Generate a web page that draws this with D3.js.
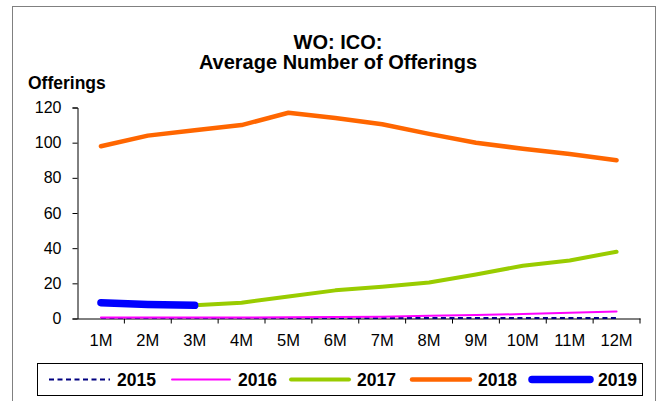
<!DOCTYPE html>
<html>
<head>
<meta charset="utf-8">
<script src="https://cdn.jsdelivr.net/npm/d3@7"></script>
<style>
  body { margin: 0; background: #fff; }
  svg { display: block; font-family: "Liberation Sans", Arial, sans-serif; }
</style>
</head>
<body>
<svg id="chart" width="664" height="401"></svg>
<script>
// months along the x axis
var months = ['1M', '2M', '3M', '4M', '5M', '6M', '7M', '8M', '9M', '10M', '11M', '12M'];
var yTicks = [0, 20, 40, 60, 80, 100, 120];

// average number of offerings per year (null = no data)
var y2015 = [0.3, 0.3, 0.3, 0.3, 0.3, 0.3, 0.3, 0.3, 0.3, 0.3, 0.3, 0.3];
var y2016 = [0.5, 0.5, 0.5, 0.6, 0.7, 0.8, 1, 1.5, 2, 2.5, 3.2, 4];
var y2017 = [null, null, 7.5, 9, 12.5, 16, 18, 20.5, 25, 30, 33, 38];
var y2018 = [98, 104, 107, 110, 117, 114, 110.5, 105, 100, 96.5, 93.5, 90];
var y2019 = [9, 8, 7.5, null, null, null, null, null, null, null, null, null];

var series = [
  { name: '2015', values: y2015, color: '#000080', width: 2, dash: '5,3.5' },
  { name: '2016', values: y2016, color: '#FF00FF', width: 2 },
  { name: '2017', values: y2017, color: '#99CC00', width: 4 },
  { name: '2018', values: y2018, color: '#FF6600', width: 4.5 },
  { name: '2019', values: y2019, color: '#0000FF', width: 7.5 }
];

var svg = d3.select('#chart');

// outer frame
svg.append('rect').attr('x', 12.5).attr('y', 6.5).attr('width', 643).attr('height', 400)
  .attr('fill', '#fff').attr('stroke', '#808080').attr('stroke-width', 1);

// titles
svg.append('text').attr('x', 338).attr('y', 49).attr('text-anchor', 'middle')
  .attr('font-size', 20).attr('font-weight', 'bold').text('WO: ICO:');
svg.append('text').attr('x', 338).attr('y', 69).attr('text-anchor', 'middle')
  .attr('font-size', 20).attr('font-weight', 'bold').text('Average Number of Offerings');
svg.append('text').attr('x', 28).attr('y', 89)
  .attr('font-size', 17.5).attr('font-weight', 'bold').text('Offerings');

var plotL = 77.5, plotR = 640, plotT = 107.5, plotB = 318.5;

var x = d3.scaleBand().domain(months).range([plotL, plotR]);
var y = d3.scaleLinear().domain([0, 120]).range([plotB, plotT]);

// y axis
var yAxis = svg.append('g').attr('transform', 'translate(' + plotL + ',0)')
  .call(d3.axisLeft(y).tickValues(yTicks).tickSize(5).tickPadding(11));
yAxis.selectAll('text').attr('font-size', 16).attr('font-family', '"Liberation Sans", Arial, sans-serif').attr('fill', '#000');

// x axis with ticks at category boundaries
var xAxis = svg.append('g').attr('transform', 'translate(0,' + plotB + ')')
  .call(d3.axisBottom(x).tickSize(0).tickPadding(16));
xAxis.selectAll('text').attr('font-size', 16.5).attr('font-family', '"Liberation Sans", Arial, sans-serif').attr('fill', '#000');
xAxis.selectAll('.bound').data(months).join('line').attr('class', 'bound')
  .attr('x1', function (d) { return x(d) + x.bandwidth(); })
  .attr('x2', function (d) { return x(d) + x.bandwidth(); })
  .attr('y1', 0).attr('y2', 5).attr('stroke', '#000');
svg.selectAll('.domain').attr('stroke', '#000');

// lines
var line = d3.line()
  .defined(function (d) { return d != null; })
  .x(function (d, i) { return x(months[i]) + x.bandwidth() / 2; })
  .y(function (d) { return y(d); });

svg.append('g').selectAll('path').data(series).join('path')
  .attr('d', function (s) { return line(s.values); })
  .attr('fill', 'none')
  .attr('stroke', function (s) { return s.color; })
  .attr('stroke-width', function (s) { return s.width; })
  .attr('stroke-dasharray', function (s) { return s.dash || null; })
  .attr('stroke-linecap', function (s) { return s.dash ? 'butt' : 'round'; })
  .attr('stroke-linejoin', 'round');

// legend
svg.append('rect').attr('x', 37.5).attr('y', 363.5).attr('width', 605).attr('height', 32)
  .attr('fill', '#fff').attr('stroke', '#000');
var legX = [49, 170, 289, 410, 530];
var lg = svg.append('g').selectAll('g').data(series).join('g')
  .attr('transform', function (s, i) { return 'translate(' + legX[i] + ',379.5)'; });
lg.append('line').attr('x1', function (s) { return s.dash ? 0 : 2; })
  .attr('x2', function (s) { return s.dash ? 61 : 60; }).attr('y1', 0).attr('y2', 0)
  .attr('stroke', function (s) { return s.color; })
  .attr('stroke-width', function (s) { return s.width; })
  .attr('stroke-dasharray', function (s) { return s.dash || null; })
  .attr('stroke-linecap', function (s) { return s.dash ? 'butt' : 'round'; });
lg.append('text').attr('x', 68).attr('y', 6).attr('font-size', 17.5).attr('font-weight', 'bold')
  .text(function (s) { return s.name; });
</script>
</body>
</html>
